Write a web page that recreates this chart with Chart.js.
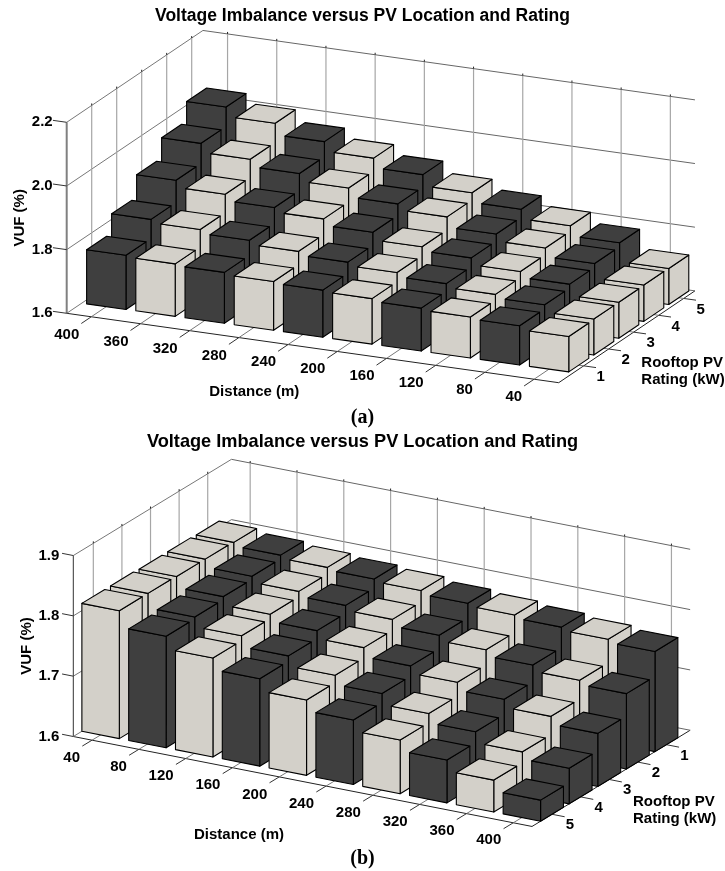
<!DOCTYPE html>
<html>
<head>
<meta charset="utf-8">
<title>Voltage Imbalance versus PV Location and Rating</title>
<script src="https://cdn.jsdelivr.net/npm/chart.js@4"></script>
<style>
  html, body { margin: 0; background: #fff; }
  #wrap { position: relative; width: 725px; height: 871px; overflow: hidden; }
  canvas { position: absolute; left: 0; }
</style>
</head>
<body>
<div id="wrap">
  <canvas id="chartA" width="725" height="431" style="top:0"></canvas>
  <canvas id="chartB" width="725" height="440" style="top:431px"></canvas>
</div>
<script>
const chartTitle = "Voltage Imbalance versus PV Location and Rating";

// panel (a): rows run front to back
const distancesA = [400, 360, 320, 280, 240, 200, 160, 120, 80, 40];
const ratingsA = [1, 2, 3, 4, 5];
const vufA1 = [1.77, 1.765, 1.76, 1.753, 1.748, 1.743, 1.735, 1.729, 1.723, 1.711];
const vufA2 = [1.83, 1.82, 1.808, 1.795, 1.783, 1.772, 1.759, 1.747, 1.736, 1.713];
const vufA3 = [1.9, 1.878, 1.858, 1.844, 1.824, 1.8, 1.787, 1.766, 1.748, 1.713];
const vufA4 = [1.963, 1.935, 1.912, 1.888, 1.86, 1.841, 1.809, 1.787, 1.76, 1.714];
const vufA5 = [2.024, 1.995, 1.959, 1.929, 1.899, 1.864, 1.834, 1.804, 1.772, 1.713];
const ticksA = [1.6, 1.8, 2.0, 2.2];

// panel (b): rating 5 is the front row
const distancesB = [40, 80, 120, 160, 200, 240, 280, 320, 360, 400];
const ratingsB = [5, 4, 3, 2, 1];
const vufB5 = [1.812, 1.785, 1.764, 1.745, 1.725, 1.707, 1.689, 1.671, 1.653, 1.635];
const vufB4 = [1.812, 1.788, 1.772, 1.754, 1.737, 1.722, 1.704, 1.689, 1.671, 1.659];
const vufB3 = [1.811, 1.793, 1.779, 1.767, 1.754, 1.739, 1.727, 1.714, 1.701, 1.688];
const vufB2 = [1.811, 1.798, 1.788, 1.78, 1.772, 1.761, 1.752, 1.742, 1.732, 1.725];
const vufB1 = [1.81, 1.804, 1.799, 1.795, 1.791, 1.785, 1.781, 1.776, 1.771, 1.766];
const ticksB = [1.6, 1.7, 1.8, 1.9];

const DARK = "#3f3f3f";
const LIGHT = "#d3d0c9";
const FONT = "'Liberation Sans', Arial, sans-serif";

function drawLine(ctx, a, b, color, width) {
    ctx.strokeStyle = color;
    ctx.lineWidth = width;
    ctx.beginPath();
    ctx.moveTo(a.x, a.y);
    ctx.lineTo(b.x, b.y);
    ctx.stroke();
}

function drawFace(ctx, pts, fill) {
    ctx.fillStyle = fill;
    ctx.beginPath();
    pts.forEach((p, i) => (i ? ctx.lineTo(p.x, p.y) : ctx.moveTo(p.x, p.y)));
    ctx.closePath();
    ctx.fill();
    ctx.stroke();
}

// oblique projection: distance runs along the x scale, VUF along the y scale,
// the rating axis is a fixed pixel offset per unit
function bars3d(g) {
    const project = (chart, c, d, v) => ({
        x: chart.scales.x.getPixelForValue(c) + d * g.ratingX,
        y: chart.scales.y.getPixelForValue(v) + c * g.shear + d * g.ratingY,
    });
    return {
        id: "bars3d",
        beforeDatasetsDraw(chart) {
            const ctx = chart.ctx;
            const P = (c, d, v) => project(chart, c, d, v);
            const low = g.ticks[0];
            const high = g.ticks[g.ticks.length - 1];
            const xMax = chart.scales.x.max;
            ctx.save();
            ctx.lineCap = "butt";

            // walls
            g.ticks.slice(1).forEach((t) => {
                drawLine(ctx, P(0, 0, t), P(0, g.depth, t), "#777", 1);
                drawLine(ctx, P(0, g.depth, t), P(xMax, g.depth, t), "#666", 1);
            });
            g.distances.forEach((_, i) => {
                const c = g.cStart + i + 0.4;
                const top = P(c, g.depth, high);
                drawLine(ctx, P(c, g.depth, low), top, "#a6a6a6", 1.2);
                drawLine(ctx, top, { x: top.x, y: top.y - 2 }, "#222", 1);
            });
            g.ratings.forEach((_, k) => {
                const d = g.dStart + k + 0.4;
                const top = P(0, d, high);
                drawLine(ctx, P(0, d, low), top, "#a6a6a6", 1.2);
                drawLine(ctx, top, { x: top.x, y: top.y - 2 }, "#222", 1);
            });
            drawLine(ctx, P(0, 0, low), P(0, 0, high), g.leftAxis, g.leftAxisWidth);

            // floor
            drawLine(ctx, P(0, 0, low), P(xMax, 0, low), "#222", 1);
            drawLine(ctx, P(xMax, 0, low), P(xMax, g.depth, low), "#222", 1);
            drawLine(ctx, P(0, 0, low), P(0, g.depth, low), "#777", 1);
            drawLine(ctx, P(0, g.depth, low), P(xMax, g.depth, low), "#666", 1);
            g.distances.forEach((_, i) => {
                const c = g.cStart + i + 0.4;
                drawLine(ctx, P(c, 0, low), P(c, g.depth, low), "#777", 1);
                drawLine(ctx, P(c, 0, low), P(c, -g.distTick, low), "#333", 1);
            });
            g.ratings.forEach((_, k) => {
                const d = g.dStart + k + 0.4;
                drawLine(ctx, P(0, d, low), P(xMax, d, low), "#777", 1);
                drawLine(ctx, P(xMax, d, low), P(xMax + g.ratingTick, d, low), "#333", 1);
            });
            g.ticks.forEach((t) => {
                drawLine(ctx, P(-g.vufTick, 0, t), P(0, 0, t), "#333", 1);
            });

            // bars, back row first
            ctx.strokeStyle = "#000";
            ctx.lineWidth = 1.1;
            ctx.lineJoin = "round";
            for (let k = chart.data.datasets.length - 1; k >= 0; k--) {
                const d0 = g.dStart + k;
                chart.data.datasets[k].data.forEach((pt, i) => {
                    const c0 = pt.x - 0.4;
                    const c1 = pt.x + 0.4;
                    const d1 = d0 + 0.8;
                    const fill = g.colorOf(i);
                    drawFace(ctx, [P(c1, d0, low), P(c1, d1, low), P(c1, d1, pt.y), P(c1, d0, pt.y)], fill);
                    drawFace(ctx, [P(c0, d0, low), P(c1, d0, low), P(c1, d0, pt.y), P(c0, d0, pt.y)], fill);
                    drawFace(ctx, [P(c0, d0, pt.y), P(c1, d0, pt.y), P(c1, d1, pt.y), P(c0, d1, pt.y)], fill);
                });
            }
            ctx.restore();
        },
        afterDatasetsDraw(chart) {
            const ctx = chart.ctx;
            const P = (c, d, v) => project(chart, c, d, v);
            const low = g.ticks[0];
            const xMax = chart.scales.x.max;
            ctx.save();
            ctx.fillStyle = "#000";
            ctx.font = "bold 15px " + FONT;
            ctx.textBaseline = "middle";

            ctx.textAlign = "right";
            g.distances.forEach((label, i) => {
                const p = P(g.cStart + i + 0.4, 0, low);
                ctx.fillText(String(label), p.x - 12, p.y + g.distLabelY);
            });
            ctx.textAlign = "center";
            g.ratings.forEach((label, k) => {
                const p = P(xMax, g.dStart + k + 0.4, low);
                ctx.fillText(String(label), p.x + g.ratingLabel[0], p.y + g.ratingLabel[1]);
            });
            ctx.fillText("Distance (m)", g.distTitle[0], g.distTitle[1]);
            ctx.textAlign = "left";
            ctx.fillText("Rooftop PV", g.ratingTitle[0], g.ratingTitle[1]);
            ctx.fillText("Rating (kW)", g.ratingTitle[0], g.ratingTitle[1] + 17);
            ctx.restore();
        },
    };
}

function makeChart(id, rows, g) {
    new Chart(document.getElementById(id), {
        type: "scatter",
        data: {
            datasets: rows.map((values, k) => ({
                label: "Rating " + g.ratings[k] + " kW",
                data: values.map((v, i) => ({ x: g.cStart + i + 0.4, y: v })),
                pointRadius: 0,
                showLine: false,
            })),
        },
        options: {
            responsive: false,
            animation: false,
            events: [],
            layout: { padding: 0 },
            scales: {
                x: { type: "linear", display: false, min: 0, max: g.cLength },
                y: {
                    type: "linear",
                    position: "left",
                    min: g.ticks[0],
                    max: g.ticks[g.ticks.length - 1],
                    afterFit(scale) { scale.width = g.left; },
                    afterBuildTicks(scale) { scale.ticks = g.ticks.map((value) => ({ value })); },
                    grid: { display: false, drawTicks: false },
                    border: { display: false },
                    ticks: {
                        padding: 14,
                        color: "#000",
                        font: { family: FONT, size: 15, weight: "bold" },
                        callback: (v) => v.toFixed(1),
                    },
                    title: {
                        display: true,
                        text: "VUF (%)",
                        color: "#000",
                        font: { family: FONT, size: 15, weight: "bold" },
                        padding: { top: g.yTitleTop, bottom: 0 },
                    },
                },
                spacer: {
                    type: "linear",
                    position: "right",
                    afterFit(scale) { scale.width = g.right; },
                    grid: { display: false },
                    border: { display: false },
                    ticks: { display: false },
                },
            },
            plugins: {
                legend: { display: false },
                tooltip: { enabled: false },
                title: {
                    display: true,
                    text: chartTitle,
                    color: "#000",
                    font: { family: FONT, size: g.titleSize, weight: "bold" },
                    padding: g.titlePad,
                },
                subtitle: {
                    display: true,
                    position: "bottom",
                    text: g.caption,
                    color: "#000",
                    font: { family: "'Liberation Serif', serif", size: 20, weight: "bold" },
                    padding: g.captionPad,
                },
            },
        },
        plugins: [bars3d(g)],
    });
}

makeChart("chartA", [vufA1, vufA2, vufA3, vufA4, vufA5], {
    distances: distancesA, ratings: ratingsA, ticks: ticksA, caption: "(a)",
    colorOf: (i) => (i % 2 ? LIGHT : DARK),
    left: 66.7, right: 166.3, cLength: 10, cStart: 0.1, dStart: 0.6, depth: 5.45,
    shear: 6.94, ratingX: 25, ratingY: -16.85,
    vufTick: 0.28, distTick: 0.4, ratingTick: 0.25, distLabelY: 17.8, ratingLabel: [17, 11.2],
    leftAxis: "#808080", leftAxisWidth: 2, yTitleTop: 11,
    titleSize: 17.5, titlePad: { top: 5.5, bottom: 95.8 }, captionPad: { top: 92.7, bottom: 1 },
    distTitle: [254.3, 392], ratingTitle: [641.3, 362.7],
});

makeChart("chartB", [vufB5, vufB4, vufB3, vufB2, vufB1], {
    distances: distancesB, ratings: ratingsB, ticks: ticksB, caption: "(b)",
    colorOf: (i) => (i % 2 ? DARK : LIGHT),
    left: 73.3, right: 193, cLength: 9.8, cStart: 0, dStart: 0.3, depth: 5.53,
    shear: 9.18, ratingX: 28.6, ratingY: -17.4,
    vufTick: 0.24, distTick: 0.34, ratingTick: 0.27, distLabelY: 17.5, ratingLabel: [18, 10.7],
    leftAxis: "#333", leftAxisWidth: 1, yTitleTop: 18,
    titleSize: 18.2, titlePad: { top: 0, bottom: 102.7 }, captionPad: { top: 110.5, bottom: 0 },
    distTitle: [239, 404], ratingTitle: [633, 370.7],
});
</script>
</body>
</html>
